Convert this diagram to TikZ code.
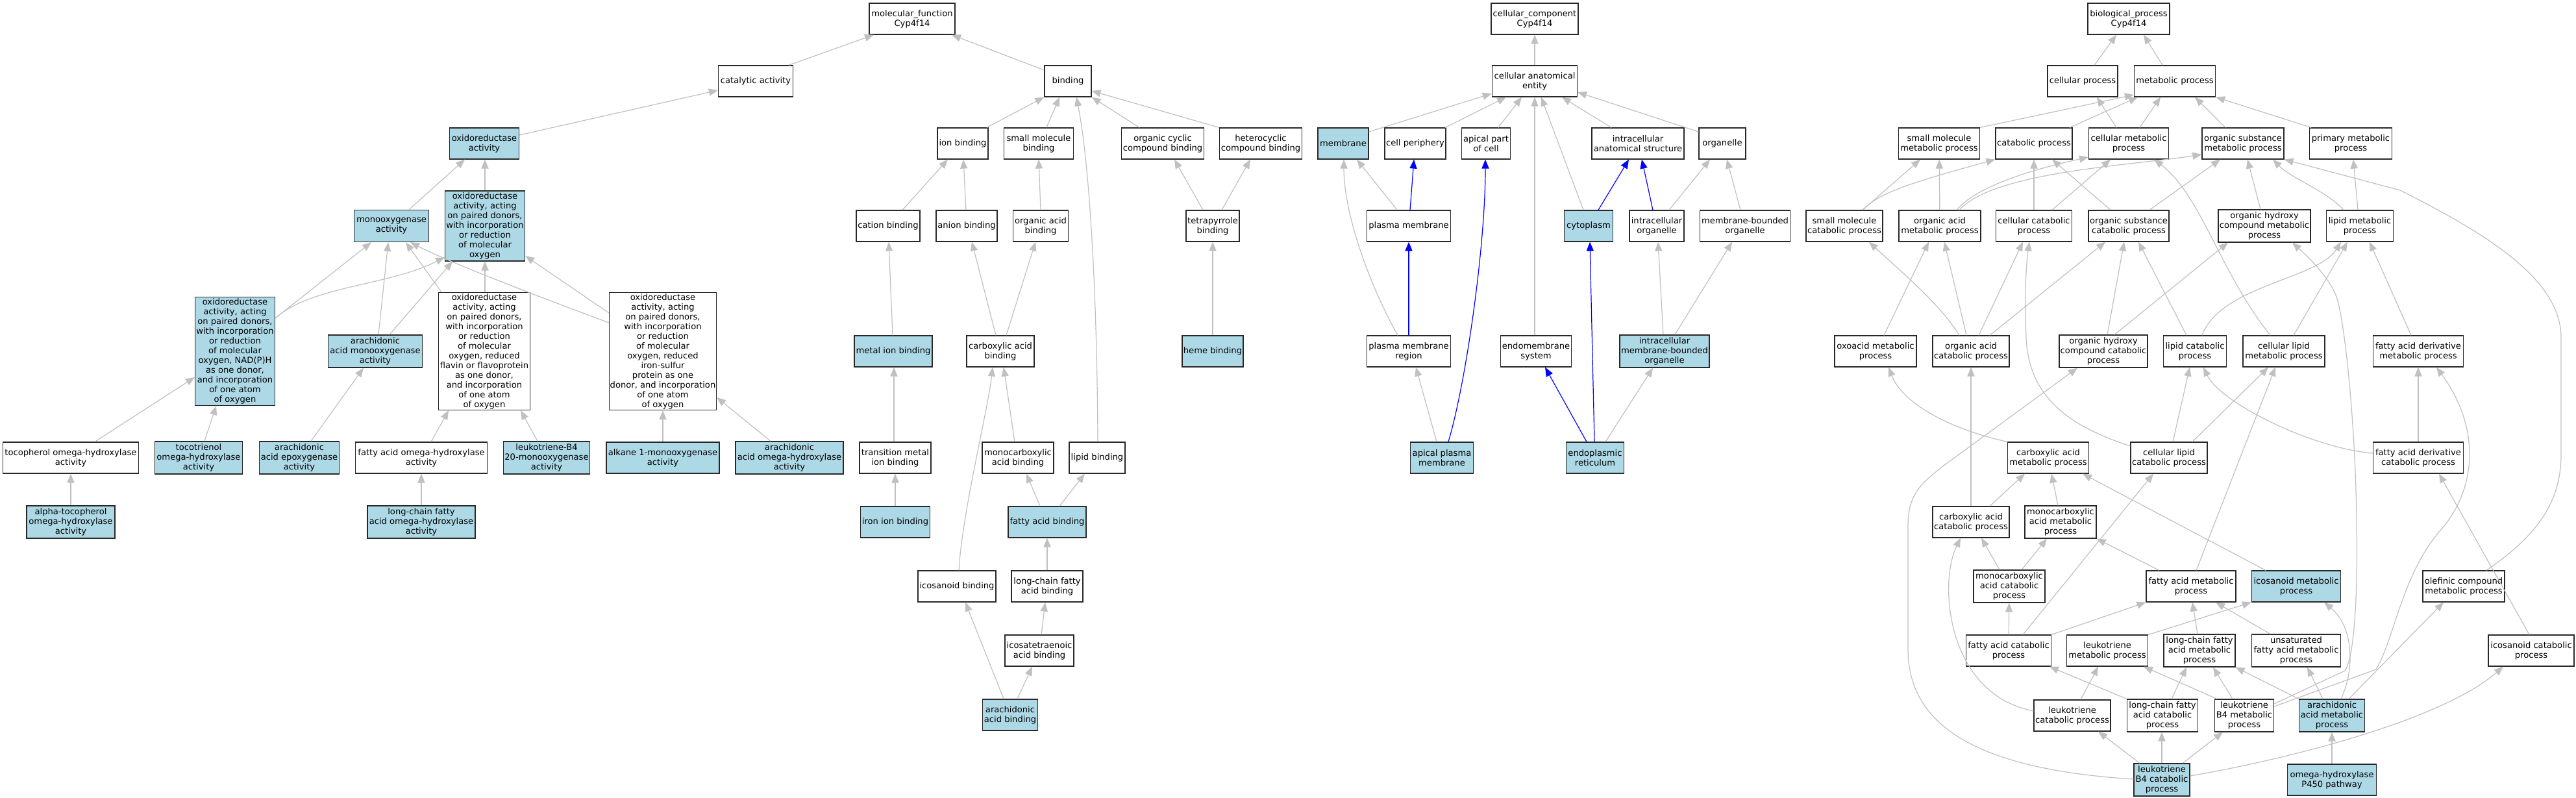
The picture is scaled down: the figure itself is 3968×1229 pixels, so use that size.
\documentclass[tikz,border=0pt]{standalone}
\usepackage{fontspec}
\setmainfont{DejaVu Sans}
\usetikzlibrary{arrows.meta}
\definecolor{lb}{RGB}{173,216,230}
\definecolor{eg}{RGB}{192,192,192}
\definecolor{bd}{RGB}{40,40,40}
\tikzset{
  nb/.style={draw=bd, line width=0.6pt, fill=white, rectangle, align=center, inner sep=0pt,
    font=\fontsize{6.55pt}{7.5pt}\selectfont, minimum height=24pt},
  bl/.style={fill=lb},
  bw/.style={minimum width=#1*0.5pt},
  bh/.style={minimum height=#1*0.5pt},
  ge/.style={draw=eg, line width=0.6pt, -{Triangle[length=7pt,width=5.6pt]}},
  be/.style={draw=blue, line width=0.6pt, -{Triangle[length=7pt,width=5.6pt]}}
}
\begin{document}
\begin{tikzpicture}[x=0.5pt,y=-0.5pt]
\fill[white] (0,0) rectangle (3968,1229);
\useasboundingbox (0,0) rectangle (3968,1229);
% ---------------- molecular function ----------------
\node[nb,bw=132] (mf) at (1405,29) {molecular\_function\\Cyp4f14};
\node[nb,bw=115] (cat) at (1164,125) {catalytic activity};
\node[nb,bw=72] (bind) at (1645,125) {binding};
\node[nb,bl,bw=107] (oxr) at (746,221) {oxidoreductase\\activity};
\node[nb,bl,bw=115,bh=49] (mono) at (603,348) {monooxygenase\\activity};
\node[nb,bl,bw=123,bh=108] (oxo) at (747,348) {oxidoreductase\\activity, acting\\on paired donors,\\with incorporation\\or reduction\\of molecular\\oxygen};
\node[nb,bl,bw=123,bh=167] (nadph) at (362,541) {oxidoreductase\\activity, acting\\on paired donors,\\with incorporation\\or reduction\\of molecular\\oxygen, NAD(P)H\\as one donor,\\and incorporation\\of one atom\\of oxygen};
\node[nb,bl,bw=145,bh=50] (aamono) at (578,541) {arachidonic\\acid monooxygenase\\activity};
\node[nb,bw=141,bh=181] (flavin) at (746,541) {oxidoreductase\\activity, acting\\on paired donors,\\with incorporation\\or reduction\\of molecular\\oxygen, reduced\\flavin or flavoprotein\\as one donor,\\and incorporation\\of one atom\\of oxygen};
\node[nb,bw=165,bh=181] (fes) at (1021,541) {oxidoreductase\\activity, acting\\on paired donors,\\with incorporation\\or reduction\\of molecular\\oxygen, reduced\\iron-sulfur\\protein as one\\donor, and incorporation\\of one atom\\of oxygen};
\node[nb,bw=209] (toco) at (109,705) {tocopherol omega-hydroxylase\\activity};
\node[nb,bl,bw=135,bh=50] (tocot) at (306,705) {tocotrienol\\omega-hydroxylase\\activity};
\node[nb,bl,bw=123,bh=50] (aaepox) at (461,705) {arachidonic\\acid epoxygenase\\activity};
\node[nb,bw=203] (faomega) at (649,705) {fatty acid omega-hydroxylase\\activity};
\node[nb,bl,bw=133,bh=50] (ltb4mono) at (842,705) {leukotriene-B4\\20-monooxygenase\\activity};
\node[nb,bl,bw=174] (alkane) at (1021,705) {alkane 1-monooxygenase\\activity};
\node[nb,bl,bw=166,bh=50] (aaomega) at (1216,705) {arachidonic\\acid omega-hydroxylase\\activity};
\node[nb,bl,bw=136,bh=50] (atoco) at (109,804) {alpha-tocopherol\\omega-hydroxylase\\activity};
\node[nb,bl,bw=166,bh=50] (lcfaomega) at (649,804) {long-chain fatty\\acid omega-hydroxylase\\activity};
\node[nb,bw=78] (ionb) at (1483,221) {ion binding};
\node[nb,bw=107] (smb) at (1600,221) {small molecule\\binding};
\node[nb,bw=127] (occb) at (1791,221) {organic cyclic\\compound binding};
\node[nb,bw=127] (hcb) at (1942,221) {heterocyclic\\compound binding};
\node[nb,bw=98] (catb) at (1368,348) {cation binding};
\node[nb,bw=94] (anb) at (1489,348) {anion binding};
\node[nb,bw=85] (oab) at (1603,348) {organic acid\\binding};
\node[nb,bw=82] (tpb) at (1868,348) {tetrapyrrole\\binding};
\node[nb,bl,bw=120] (mib) at (1376,541) {metal ion binding};
\node[nb,bw=104] (cab) at (1541,541) {carboxylic acid\\binding};
\node[nb,bl,bw=94] (hemeb) at (1868,541) {heme binding};
\node[nb,bw=110] (tmib) at (1379,705) {transition metal\\ion binding};
\node[nb,bw=110] (mcab) at (1568,705) {monocarboxylic\\acid binding};
\node[nb,bw=86] (lipb) at (1690,705) {lipid binding};
\node[nb,bl,bw=107] (iib) at (1379,804) {iron ion binding};
\node[nb,bl,bw=120] (fab) at (1613,804) {fatty acid binding};
\node[nb,bw=120] (icob) at (1474,903) {icosanoid binding};
\node[nb,bw=110] (lcfab) at (1613,903) {long-chain fatty\\acid binding};
\node[nb,bw=106] (icotb) at (1601,1002) {icosatetraenoic\\acid binding};
\node[nb,bl,bw=85] (aab) at (1556,1101) {arachidonic\\acid binding};
% ---------------- cellular component ----------------
\node[nb,bw=134] (cc) at (2364,29) {cellular\_component\\Cyp4f14};
\node[nb,bw=131] (cae) at (2364,125) {cellular anatomical\\entity};
\node[nb,bl,bw=78] (memb) at (2069,221) {membrane};
\node[nb,bw=94] (cper) at (2180,221) {cell periphery};
\node[nb,bw=75] (apc) at (2289,221) {apical part\\of cell};
\node[nb,bw=142] (ias) at (2523,221) {intracellular\\anatomical structure};
\node[nb,bw=72] (org) at (2653,221) {organelle};
\node[nb,bw=129] (pm) at (2170,348) {plasma membrane};
\node[nb,bl,bw=75] (cyto) at (2447,348) {cytoplasm};
\node[nb,bw=84] (io) at (2552,348) {intracellular\\organelle};
\node[nb,bw=139] (mbo) at (2688,348) {membrane-bounded\\organelle};
\node[nb,bw=129] (pmr) at (2170,541) {plasma membrane\\region};
\node[nb,bw=109] (ems) at (2366,541) {endomembrane\\system};
\node[nb,bl,bw=138,bh=50] (imbo) at (2564,541) {intracellular\\membrane-bounded\\organelle};
\node[nb,bl,bw=97] (apm) at (2221,705) {apical plasma\\membrane};
\node[nb,bl,bw=89] (er) at (2457,705) {endoplasmic\\reticulum};
% ---------------- biological process ----------------
\node[nb,bw=126] (bp) at (3279,29) {biological\_process\\Cyp4f14};
\node[nb,bw=108] (cp) at (3208,125) {cellular process};
\node[nb,bw=125] (mp) at (3350,125) {metabolic process};
\node[nb,bw=125] (smmp) at (2987,221) {small molecule\\metabolic process};
\node[nb,bw=118] (catp) at (3133,221) {catabolic process};
\node[nb,bw=123] (cmp) at (3279,221) {cellular metabolic\\process};
\node[nb,bw=126] (osmp) at (3455,221) {organic substance\\metabolic process};
\node[nb,bw=127] (pmp) at (3621,221) {primary metabolic\\process};
\node[nb,bw=118] (smcp) at (2841,348) {small molecule\\catabolic process};
\node[nb,bw=126] (oamp) at (2988,348) {organic acid\\metabolic process};
\node[nb,bw=117] (ccp) at (3133,348) {cellular catabolic\\process};
\node[nb,bw=124] (oscp) at (3279,348) {organic substance\\catabolic process};
\node[nb,bw=142,bh=50] (ohcmp) at (3488,348) {organic hydroxy\\compound metabolic\\process};
\node[nb,bw=103] (lmp) at (3635,348) {lipid metabolic\\process};
\node[nb,bw=126] (oxmp) at (2889,541) {oxoacid metabolic\\process};
\node[nb,bw=118] (oacp) at (3036,541) {organic acid\\catabolic process};
\node[nb,bw=136,bh=50] (ohccp) at (3240,541) {organic hydroxy\\compound catabolic\\process};
\node[nb,bw=97] (lcp) at (3381,541) {lipid catabolic\\process};
\node[nb,bw=126] (clmp) at (3518,541) {cellular lipid\\metabolic process};
\node[nb,bw=139] (fadmp) at (3725,541) {fatty acid derivative\\metabolic process};
\node[nb,bw=125] (camp) at (3155,705) {carboxylic acid\\metabolic process};
\node[nb,bw=118] (clcp) at (3341,705) {cellular lipid\\catabolic process};
\node[nb,bw=139] (fadcp) at (3725,705) {fatty acid derivative\\catabolic process};
\node[nb,bw=118] (cacp) at (3036,804) {carboxylic acid\\catabolic process};
\node[nb,bw=110,bh=50] (mcamp) at (3174,804) {monocarboxylic\\acid metabolic\\process};
\node[nb,bw=110,bh=50] (mcacp) at (3095,903) {monocarboxylic\\acid catabolic\\process};
\node[nb,bw=138] (famp) at (3375,903) {fatty acid metabolic\\process};
\node[nb,bl,bw=137] (icmp) at (3537,903) {icosanoid metabolic\\process};
\node[nb,bw=126] (olmp) at (3795,903) {olefinic compound\\metabolic process};
\node[nb,bw=131] (facp) at (3094,1002) {fatty acid catabolic\\process};
\node[nb,bw=125] (ltmp) at (3246,1002) {leukotriene\\metabolic process};
\node[nb,bw=110,bh=50] (lcfamp) at (3388,1002) {long-chain fatty\\acid metabolic\\process};
\node[nb,bw=137,bh=50] (ufamp) at (3537,1002) {unsaturated\\fatty acid metabolic\\process};
\node[nb,bw=132] (iccp) at (3899,1002) {icosanoid catabolic\\process};
\node[nb,bw=118] (ltcp) at (3192,1102) {leukotriene\\catabolic process};
\node[nb,bw=109,bh=50] (lcfacp) at (3331,1102) {long-chain fatty\\acid catabolic\\process};
\node[nb,bw=91,bh=50] (ltb4mp) at (3457,1102) {leukotriene\\B4 metabolic\\process};
\node[nb,bl,bw=101,bh=50] (aamp) at (3592,1102) {arachidonic\\acid metabolic\\process};
\node[nb,bl,bw=86,bh=50] (ltb4cp) at (3330,1201) {leukotriene\\B4 catabolic\\process};
\node[nb,bl,bw=137] (ohp) at (3592,1201) {omega-hydroxylase\\P450 pathway};
% ================= edges: molecular function =================
\draw[ge] (cat.north -| 1215,0) -- (mf.south -| 1346,0);
\draw[ge] (bind.west |- 0,108) -- (mf.south -| 1466,0);
\draw[ge] (oxr.east |- 0,208) -- (cat.west |- 0,139);
\draw[ge] (mono.north -| 630,0) -- (oxr.south -| 716,0);
\draw[ge] (oxo.north) -- (oxr.south -| 747,0);
\draw[ge] (nadph.east |- 0,490) -- (mono.south -| 572,0);
\draw[ge] (nadph.east |- 0,490) .. controls (480,440) and (600,440) .. (oxo.west |- 0,396);
\draw[ge] (aamono.north -| 583,0) -- (mono.south -| 598,0);
\draw[ge] (aamono.north -| 600,0) -- (oxo.south -| 697,0);
\draw[ge] (flavin.north -| 680,0) -- (mono.south -| 625,0);
\draw[ge] (flavin.north -| 747,0) -- (oxo.south -| 747,0);
\draw[ge] (fes.west |- 0,482) -- (oxo.east |- 0,394);
\draw[ge] (fes.west |- 0,497) .. controls (860,468) and (700,408) .. (mono.south -| 632,0);
\draw[ge] (toco.north -| 146,0) -- (nadph.west |- 0,581);
\draw[ge] (tocot.north -| 315,0) -- (nadph.south -| 333,0);
\draw[ge] (aaepox.north -| 479,0) -- (aamono.south -| 560,0);
\draw[ge] (faomega.north -| 664,0) -- (flavin.south -| 691,0);
\draw[ge] (ltb4mono.north -| 828,0) -- (flavin.south -| 802,0);
\draw[ge] (atoco) -- (toco);
\draw[ge] (lcfaomega) -- (faomega);
\draw[ge] (alkane) -- (fes);
\draw[ge] (aaomega.north -| 1187,0) -- (fes.east |- 0,612);
\draw[ge] (ionb.north -| 1520,0) -- (bind.south west);
\draw[ge] (smb.north -| 1612,0) -- (bind.south -| 1632,0);
\draw[ge] (lipb.north -| 1691,0) .. controls (1690,450) and (1678,250) .. (bind.south -| 1658,0);
\draw[ge] (occb.north -| 1755,0) -- (bind.south east);
\draw[ge] (hcb.north west) -- (bind.east |- 0,140);
\draw[ge] (catb.north -| 1390,0) -- (ionb.south -| 1460,0);
\draw[ge] (anb.north -| 1488,0) -- (ionb.south -| 1484,0);
\draw[ge] (oab.north -| 1603,0) -- (smb.south -| 1600,0);
\draw[ge] (mib.north -| 1375,0) -- (catb.south -| 1369,0);
\draw[ge] (cab.north -| 1534,0) -- (anb.south -| 1497,0);
\draw[ge] (cab.north -| 1550,0) -- (oab.south -| 1595,0);
\draw[ge] (tmib.north -| 1377,0) -- (mib.south -| 1377,0);
\draw[ge] (mcab.north -| 1563,0) -- (cab.south -| 1546,0);
\draw[ge] (icob.north -| 1477,0) .. controls (1482,790) and (1522,630) .. (cab.south -| 1529,0);
\draw[ge] (iib) -- (tmib);
\draw[ge] (fab.north -| 1602,0) -- (mcab.south -| 1581,0);
\draw[ge] (fab.north -| 1632,0) -- (lipb.south -| 1671,0);
\draw[ge] (lcfab) -- (fab);
\draw[ge] (icotb.north -| 1604,0) -- (lcfab.south -| 1610,0);
\draw[ge] (aab.north -| 1546,0) -- (icob.south -| 1487,0);
\draw[ge] (aab.north -| 1567,0) -- (icotb.south -| 1590,0);
\draw[ge] (tpb.north -| 1853,0) -- (occb.south -| 1809,0);
\draw[ge] (tpb.north -| 1882,0) -- (hcb.south -| 1926,0);
\draw[ge] (hemeb) -- (tpb);
% ================= edges: cellular component =================
\draw[ge] (cae) -- (cc);
\draw[ge] (memb.east |- 0,203) -- (cae.west |- 0,144);
\draw[ge] (cper.north -| 2226,0) -- (cae.south -| 2320,0);
\draw[ge] (apc.north -| 2308,0) -- (cae.south -| 2344,0);
\draw[ge] (ems.north -| 2364,0) -- (cae.south -| 2364,0);
\draw[ge] (cyto.north -| 2439,0) -- (cae.south -| 2374,0);
\draw[ge] (ias.north -| 2482,0) -- (cae.south -| 2406,0);
\draw[ge] (org.west |- 0,203) -- (cae.east |- 0,142);
\draw[ge] (pm.north -| 2152,0) -- (memb.south -| 2090,0);
\draw[be] (pm.north -| 2172,0) -- (cper.south -| 2178,0);
\draw[be] (cyto.north -| 2462,0) -- (ias.south -| 2509,0);
\draw[be] (io.north -| 2546,0) -- (ias.south -| 2529,0);
\draw[ge] (io.north -| 2571,0) -- (org.south -| 2634,0);
\draw[ge] (mbo.north -| 2681,0) -- (org.south -| 2660,0);
\draw[ge] (pmr.north -| 2153,0) .. controls (2110,440) and (2070,330) .. (memb.south -| 2070,0);
\draw[be] (pmr) -- (pm);
\draw[ge] (imbo.north -| 2562,0) -- (io.south -| 2554,0);
\draw[ge] (imbo.north -| 2580,0) -- (mbo.south -| 2668,0);
\draw[ge] (apm.north -| 2213,0) -- (pmr.south -| 2181,0);
\draw[be] (apm.north -| 2231,0) .. controls (2258,590) and (2288,380) .. (apc.south -| 2288,0);
\draw[be] (er.north -| 2444,0) -- (ems.south -| 2380,0);
\draw[be] (er.north -| 2456,0) -- (cyto.south -| 2449,0);
\draw[ge] (er.north -| 2473,0) -- (imbo.south -| 2546,0);
% ================= edges: biological process =================
\draw[ge] (cp.north -| 3226,0) -- (bp.south -| 3260,0);
\draw[ge] (mp.north -| 3331,0) -- (bp.south -| 3302,0);
\draw[ge] (smmp.north east) -- (mp.west |- 0,146);
\draw[ge] (catp.north -| 3188,0) -- (mp.south -| 3293,0);
\draw[ge] (cmp.north -| 3260,0) -- (cp.south -| 3230,0);
\draw[ge] (cmp.north -| 3296,0) -- (mp.south -| 3328,0);
\draw[ge] (osmp.north -| 3428,0) -- (mp.south -| 3381,0);
\draw[ge] (pmp.north -| 3560,0) -- (mp.south east);
\draw[ge] (smcp.north -| 2869,0) -- (smmp.south -| 2958,0);
\draw[ge] (smcp.north -| 2869,0) .. controls (2895,298) and (2930,285) .. (catp.south west);
\draw[ge] (oamp) -- (smmp);
\draw[ge] (oamp.north -| 3014,0) .. controls (3035,298) and (3090,270) .. (cmp.west |- 0,242);
\draw[ge] (oamp.north -| 3018,0) .. controls (3070,265) and (3280,255) .. (osmp.west |- 0,238);
\draw[ge] (ccp) -- (catp);
\draw[ge] (ccp.north -| 3161,0) -- (cmp.south -| 3251,0);
\draw[ge] (oscp.north -| 3251,0) -- (catp.south -| 3161,0);
\draw[ge] (oscp.north -| 3311,0) -- (osmp.south -| 3420,0);
\draw[ge] (ohcmp.north -| 3482,0) -- (osmp.south -| 3462,0);
\draw[ge] (lmp.north -| 3610,0) .. controls (3585,295) and (3530,275) .. (osmp.south -| 3501,0);
\draw[ge] (lmp.north -| 3632,0) -- (pmp.south -| 3625,0);
\draw[ge] (olmp.north -| 3830,0) .. controls (3900,830) and (3945,780) .. (3945,700) -- (3945,520) .. controls (3945,430) and (3830,360) .. (3697,293) -- (osmp.south east);
\draw[ge] (oacp.north -| 3018,0) .. controls (2990,470) and (2930,420) .. (smcp.south -| 2879,0);
\draw[ge] (oacp.north -| 3029,0) -- (oamp.south -| 2995,0);
\draw[ge] (oacp.north -| 3048,0) -- (ccp.south -| 3116,0);
\draw[ge] (oacp.north -| 3065,0) -- (oscp.south -| 3243,0);
\draw[ge] (oxmp.north -| 2902,0) -- (oamp.south -| 2971,0);
\draw[ge] (ohccp.north -| 3246,0) -- (oscp.south -| 3272,0);
\draw[ge] (ohccp.north -| 3257,0) -- (ohcmp.south -| 3432,0);
\draw[ge] (lcp.north -| 3368,0) -- (oscp.south -| 3294,0);
\draw[ge] (lcp.north -| 3392,0) .. controls (3420,440) and (3570,430) .. (lmp.south -| 3606,0);
\draw[ge] (clmp.north -| 3497,0) .. controls (3420,420) and (3390,300) .. (cmp.south -| 3318,0);
\draw[ge] (clmp.north -| 3533,0) -- (lmp.south -| 3616,0);
\draw[ge] (fadmp.north -| 3714,0) -- (lmp.south -| 3650,0);
\draw[ge] (camp.north west) .. controls (3000,660) and (2930,620) .. (oxmp.south -| 2909,0);
\draw[ge] (clcp.west |- 0,687) .. controls (3200,660) and (3125,620) .. (3121,520) .. controls (3118,440) and (3122,400) .. (ccp.south -| 3126,0);
\draw[ge] (clcp.north -| 3347,0) -- (lcp.south -| 3373,0);
\draw[ge] (clcp.north -| 3377,0) -- (clmp.south -| 3494,0);
\draw[ge] (fadcp.west |- 0,698) .. controls (3560,690) and (3420,620) .. (lcp.south -| 3394,0);
\draw[ge] (fadcp) -- (fadmp);
\draw[ge] (cacp) -- (oacp);
\draw[ge] (cacp.north -| 3065,0) -- (camp.south -| 3119,0);
\draw[ge] (mcamp.north -| 3170,0) -- (camp.south -| 3160,0);
\draw[ge] (mcacp.north -| 3080,0) -- (cacp.south -| 3052,0);
\draw[ge] (mcacp.north -| 3114,0) -- (mcamp.south -| 3153,0);
\draw[ge] (famp.north -| 3326,0) -- (mcamp.south east);
\draw[ge] (famp.north -| 3383,0) -- (clmp.south -| 3505,0);
\draw[ge] (icmp.north -| 3490,0) -- (camp.south -| 3208,0);
\draw[ge] (facp) -- (mcacp);
\draw[ge] (facp.north east) -- (famp.south west);
\draw[ge] (facp.north -| 3116,0) -- (clcp.south -| 3317,0);
\draw[ge] (ltmp.north east) -- (icmp.south west);
\draw[ge] (lcfamp.north -| 3385,0) -- (famp.south -| 3377,0);
\draw[ge] (ufamp.north -| 3497,0) -- (famp.south -| 3413,0);
\draw[ge] (iccp.north -| 3896,0) -- (fadcp.south -| 3757,0);
\draw[ge] (ltcp.west |- 0,1095) .. controls (3000,1070) and (2985,900) .. (cacp.south -| 3020,0);
\draw[ge] (ltcp.north -| 3205,0) -- (ltmp.south -| 3232,0);
\draw[ge] (lcfacp.north west) -- (facp.south -| 3157,0);
\draw[ge] (lcfacp.north -| 3345,0) -- (lcfamp.south -| 3368,0);
\draw[ge] (ltb4mp.north -| 3439,0) -- (lcfamp.south -| 3409,0);
\draw[ge] (ltb4mp.north -| 3415,0) -- (ltmp.south -| 3302,0);
\draw[ge] (ltb4mp.east |- 0,1084) -- (3612,1033) .. controls (3628,1010) and (3632,900) .. (3630,800) .. controls (3628,650) and (3612,500) .. (3600,460) .. controls (3590,430) and (3560,400) .. (ohcmp.south -| 3531,0);
\draw[ge] (ltb4mp.east |- 0,1088) -- (3660,1031) .. controls (3690,980) and (3700,880) .. (3765,810) .. controls (3820,740) and (3815,650) .. (fadmp.south -| 3753,0);
\draw[ge] (aamp.north west) -- (lcfamp.south east);
\draw[ge] (aamp.north -| 3578,0) -- (ufamp.south -| 3554,0);
\draw[ge] (aamp.north -| 3606,0) .. controls (3628,1030) and (3625,965) .. (icmp.south -| 3580,0);
\draw[ge] (aamp.north -| 3618,0) -- (olmp.south -| 3764,0);
\draw[ge] (ohp) -- (aamp);
\draw[ge] (ltb4cp.north -| 3296,0) -- (ltcp.south -| 3232,0);
\draw[ge] (ltb4cp.north -| 3330,0) -- (lcfacp.south -| 3330,0);
\draw[ge] (ltb4cp.north -| 3362,0) -- (ltb4mp.south -| 3424,0);
\draw[ge] (ltb4cp.east |- 0,1195) .. controls (3520,1170) and (3760,1110) .. (iccp.south -| 3856,0);
\draw[ge] (ltb4cp.west |- 0,1200) .. controls (3050,1185) and (2939,1120) .. (2939,1000) -- (2939,810) .. controls (2939,760) and (2960,745) .. (2990,720) -- (ohccp.south -| 3200,0);
\end{tikzpicture}
\end{document}
